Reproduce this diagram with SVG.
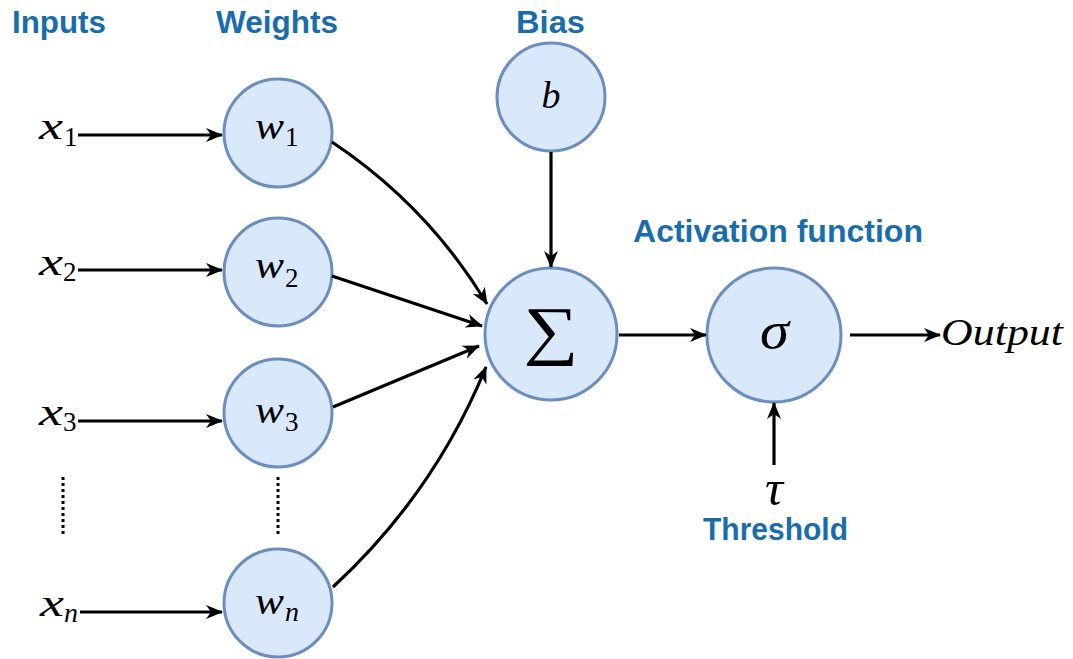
<svg xmlns="http://www.w3.org/2000/svg" width="1073" height="659" viewBox="0 0 1073 659">
<style>
.node{fill:#dae8fc;stroke:#6c8ebf;stroke-width:3}
.lbl{font-family:"Liberation Sans",Arial,sans-serif;font-weight:bold;font-size:31px;fill:#1a6dab}
.m{font-family:"Liberation Serif","DejaVu Serif",serif;font-style:italic;font-size:38px;fill:#000}
.s{font-family:"Liberation Serif","DejaVu Serif",serif;font-style:normal;font-size:27px;fill:#000}
.si{font-family:"Liberation Serif","DejaVu Serif",serif;font-style:italic;font-size:28px;fill:#000}
.e{fill:none;stroke:#000;stroke-width:3.2}
.d{fill:none;stroke:#000;stroke-width:3;stroke-dasharray:3 3}
</style>
<defs>
<marker id="ah" markerUnits="userSpaceOnUse" markerWidth="19" markerHeight="16" refX="16" refY="8" orient="auto">
<path d="M0,1 L17,8 L0,15 L5,8 Z" fill="#000"/>
</marker>
</defs>
<rect width="1073" height="659" fill="#fff"/>
<g id="labels">
<text class="lbl" x="12" y="33" textLength="94" lengthAdjust="spacingAndGlyphs">Inputs</text>
<text class="lbl" x="216" y="33" textLength="122" lengthAdjust="spacingAndGlyphs">Weights</text>
<text class="lbl" x="516" y="33" textLength="69" lengthAdjust="spacingAndGlyphs">Bias</text>
<text class="lbl" x="633" y="242" textLength="290" lengthAdjust="spacingAndGlyphs">Activation function</text>
<text class="lbl" x="703" y="540" textLength="145" lengthAdjust="spacingAndGlyphs">Threshold</text>
</g>
<g id="inputs">
<text class="m" x="39" y="139" textLength="24" lengthAdjust="spacingAndGlyphs">x</text><text class="s" x="64" y="146">1</text>
<text class="m" x="39" y="275" textLength="24" lengthAdjust="spacingAndGlyphs">x</text><text class="s" x="63" y="281">2</text>
<text class="m" x="39" y="425" textLength="24" lengthAdjust="spacingAndGlyphs">x</text><text class="s" x="63" y="431">3</text>
<text class="m" x="40" y="616" textLength="24" lengthAdjust="spacingAndGlyphs">x</text><text class="si" x="64" y="622">n</text>
<line class="d" x1="63" y1="477" x2="63" y2="537"/>
</g>
<g id="w1"><circle class="node" cx="278" cy="133" r="54"/><text class="m" x="255" y="139" textLength="29" lengthAdjust="spacingAndGlyphs">w</text><text class="s" x="285" y="146">1</text></g>
<g id="w2"><circle class="node" cx="278" cy="272" r="54"/><text class="m" x="255" y="278" textLength="29" lengthAdjust="spacingAndGlyphs">w</text><text class="s" x="285" y="287">2</text></g>
<g id="w3"><circle class="node" cx="278" cy="413" r="54"/><text class="m" x="255" y="423" textLength="29" lengthAdjust="spacingAndGlyphs">w</text><text class="s" x="285" y="431">3</text></g>
<g id="wn"><circle class="node" cx="278" cy="603" r="54"/><text class="m" x="255" y="614" textLength="29" lengthAdjust="spacingAndGlyphs">w</text><text class="si" x="285" y="621">n</text></g>
<g id="dots"><line class="d" x1="278" y1="477" x2="278" y2="535"/></g>
<g id="bias"><circle class="node" cx="551" cy="97" r="54"/><text class="m" x="551" y="108" text-anchor="middle">b</text></g>
<g id="sum"><circle class="node" cx="551" cy="334" r="66"/><text x="551" y="352" text-anchor="middle" font-family="Liberation Serif,DejaVu Serif,serif" font-size="65" textLength="55" lengthAdjust="spacingAndGlyphs" fill="#000">∑</text></g>
<g id="act"><circle class="node" cx="774" cy="335" r="67"/><text class="m" x="760" y="348" style="font-size:52px" textLength="29" lengthAdjust="spacingAndGlyphs">σ</text></g>
<g id="threshold"><text class="m" x="765" y="505" style="font-size:50px" textLength="18" lengthAdjust="spacingAndGlyphs">τ</text></g>
<g id="output"><text class="m" x="941" y="345" textLength="122" lengthAdjust="spacingAndGlyphs">Output</text></g>
<g id="connectors">
<line class="e" x1="78" y1="135" x2="222" y2="135" marker-end="url(#ah)"/>
<line class="e" x1="78" y1="270" x2="222" y2="270" marker-end="url(#ah)"/>
<line class="e" x1="78" y1="421" x2="222" y2="421" marker-end="url(#ah)"/>
<line class="e" x1="80" y1="612" x2="222" y2="612" marker-end="url(#ah)"/>
<path class="e" d="M332,142 Q428,206 487,304" marker-end="url(#ah)"/>
<line class="e" x1="332" y1="276" x2="482" y2="326" marker-end="url(#ah)"/>
<line class="e" x1="333" y1="407" x2="479" y2="346" marker-end="url(#ah)"/>
<path class="e" d="M333,587 Q434,494 486,367" marker-end="url(#ah)"/>
<line class="e" x1="551" y1="152" x2="551" y2="267" marker-end="url(#ah)"/>
<line class="e" x1="619" y1="335" x2="706" y2="335" marker-end="url(#ah)"/>
<line class="e" x1="850" y1="335" x2="940" y2="335" marker-end="url(#ah)"/>
<line class="e" x1="774" y1="465" x2="774" y2="403" marker-end="url(#ah)"/>
</g>
</svg>
